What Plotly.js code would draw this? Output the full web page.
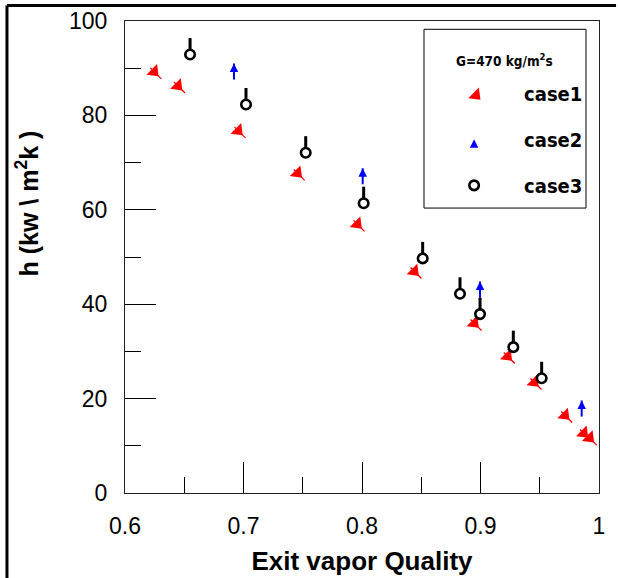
<!DOCTYPE html>
<html>
<head>
<meta charset="utf-8">
<script src="https://cdn.plot.ly/plotly-3.0.1.min.js"></script>
<style>
  html, body { margin: 0; padding: 0; background: #fff; }
  #chart { width: 618px; height: 578px; }
</style>
</head>
<body>
<div id="chart"></div>
<script>
// Exit vapour quality vs heat transfer coefficient, three test cases
const quality1 = [0.626, 0.646, 0.697, 0.747, 0.7975, 0.8456, 0.8962, 0.9243, 0.9468, 0.9727, 0.9885, 0.9935];
const htc1     = [88.9, 85.9, 76.4, 67.4, 56.6, 46.6, 35.6, 28.6, 23.1, 16.1, 12.3, 11.3];

const quality2 = [0.692, 0.8006, 0.8996, 0.9854];
const htc2     = [91.0, 68.8, 44.8, 19.6];

const quality3 = [0.6549, 0.7021, 0.7525, 0.8014, 0.8512, 0.8827, 0.8996, 0.9277, 0.9516];
const htc3     = [92.9, 82.3, 72.1, 61.4, 49.7, 42.2, 37.9, 30.9, 24.3];

const seriesNames = ['case1', 'case2', 'case3'];
const legendHeading = 'G=470 kg/m<sup>2</sup>s';

const xTickVals = [0.6, 0.7, 0.8, 0.9, 1.0];
const xTickText = ['0.6', '0.7', '0.8', '0.9', '1'];
const yTickVals = [0, 20, 40, 60, 80, 100];
const yTickText = ['0', '20', '40', '60', '80', '100'];

const SANS = 'Liberation Sans, Arial, sans-serif';
const NARROW = 'DejaVu Sans Condensed, Liberation Sans, sans-serif';

const traces = [
  // case1: push-pin — needle first, then the head on top of it
  {
    x: quality1, y: htc1, type: 'scatter', mode: 'markers',
    showlegend: false, hoverinfo: 'skip', legendgroup: 'g1',
    marker: { symbol: 'line-nw', size: 11, line: { color: '#ff0000', width: 1.3 } }
  },
  {
    x: quality1, y: htc1, type: 'scatter', mode: 'markers',
    name: seriesNames[0], legendgroup: 'g1',
    marker: { symbol: 'triangle-up', size: 13, angle: 135, standoff: 2.5,
              color: '#ff0000', line: { width: 0 } }
  },
  // case2: arrow — head at the point, shaft drawn as a downward error bar
  {
    x: quality2, y: htc2, type: 'scatter', mode: 'markers',
    name: seriesNames[1], legendgroup: 'g2',
    marker: { symbol: 'arrow-up', size: 8.5, color: '#0000ff', line: { width: 0 } },
    error_y: { type: 'constant', value: 0, valueminus: 3.4, symmetric: false,
               color: '#0000ff', thickness: 2, width: 0 }
  },
  // case3: open circle with a stem rising from it
  {
    x: quality3, y: htc3, type: 'scatter', mode: 'markers',
    name: seriesNames[2], legendgroup: 'g3',
    marker: { symbol: 'circle', size: 9.5, color: '#ffffff', line: { color: '#000000', width: 2.6 } },
    error_y: { type: 'constant', value: 3.5, valueminus: 0, symmetric: false,
               color: '#000000', thickness: 3, width: 0 }
  }
];

const layout = {
  width: 618, height: 578,
  margin: { l: 125, r: 19, t: 21, b: 85, pad: 0 },
  paper_bgcolor: '#ffffff', plot_bgcolor: '#ffffff',
  font: { family: SANS, color: '#000' },
  showlegend: true,
  xaxis: {
    range: [0.6, 1.0], tickmode: 'array', tickvals: xTickVals, ticktext: xTickText,
    ticks: 'inside', ticklen: 31, tickwidth: 1, tickcolor: '#000',
    showline: true, mirror: true, linecolor: '#222', linewidth: 1,
    showgrid: false, zeroline: false,
    minor: { dtick: 0.05, ticks: 'inside', ticklen: 16, tickwidth: 1, tickcolor: '#000', showgrid: false },
    tickfont: { family: SANS, size: 23, color: '#000' },
    ticklabelstandoff: 12,
    title: { text: 'Exit vapor Quality', standoff: 14,
             font: { family: SANS, size: 26, weight: 700, color: '#000' } }
  },
  yaxis: {
    range: [0, 100], tickmode: 'array', tickvals: yTickVals, ticktext: yTickText,
    ticks: 'inside', ticklen: 31, tickwidth: 1, tickcolor: '#000',
    showline: true, mirror: true, linecolor: '#222', linewidth: 1,
    showgrid: false, zeroline: false,
    minor: { dtick: 10, ticks: 'inside', ticklen: 16, tickwidth: 1, tickcolor: '#000', showgrid: false },
    tickfont: { family: SANS, size: 23, color: '#000' },
    ticklabelstandoff: 12
  },
  annotations: [
    {
      text: 'h (kw \\ m<sup>2</sup>k )', xref: 'paper', yref: 'paper',
      x: -0.207, y: 0.613, xanchor: 'center', yanchor: 'middle',
      textangle: -90, showarrow: false,
      font: { family: SANS, size: 25, weight: 700, color: '#000' }
    },
    {
      // heading inside the legend frame
      text: legendHeading, xref: 'paper', yref: 'paper',
      x: 0.8006, y: 0.9168, xanchor: 'center', yanchor: 'middle', showarrow: false,
      font: { family: NARROW, size: 13.5, weight: 700, color: '#000' }
    }
  ],
  legend: {
    x: 0.631, y: 0.888, xanchor: 'left', yanchor: 'top',
    bgcolor: 'rgba(0,0,0,0)', borderwidth: 0,
    itemwidth: 90, tracegroupgap: 17, traceorder: 'grouped',
    font: { family: NARROW, size: 20, weight: 700, color: '#000' }
  },
  shapes: [
    // legend frame
    { type: 'rect', xref: 'paper', yref: 'paper', x0: 0.6308, x1: 0.9726, y0: 0.6037, y1: 0.9824,
      layer: 'above', fillcolor: '#ffffff', line: { color: '#000', width: 1 } },
    // outer frame, top and left edges
    { type: 'line', xref: 'paper', yref: 'paper', x0: -0.249, x1: 1.036, y0: 1.033, y1: 1.033,
      line: { color: '#000', width: 3 } },
    { type: 'line', xref: 'paper', yref: 'paper', x0: -0.249, x1: -0.249, y0: 1.033, y1: -0.19,
      line: { color: '#000', width: 3 } }
  ]
};

Plotly.newPlot('chart', traces, layout, { displayModeBar: false, staticPlot: true });
</script>
</body>
</html>
